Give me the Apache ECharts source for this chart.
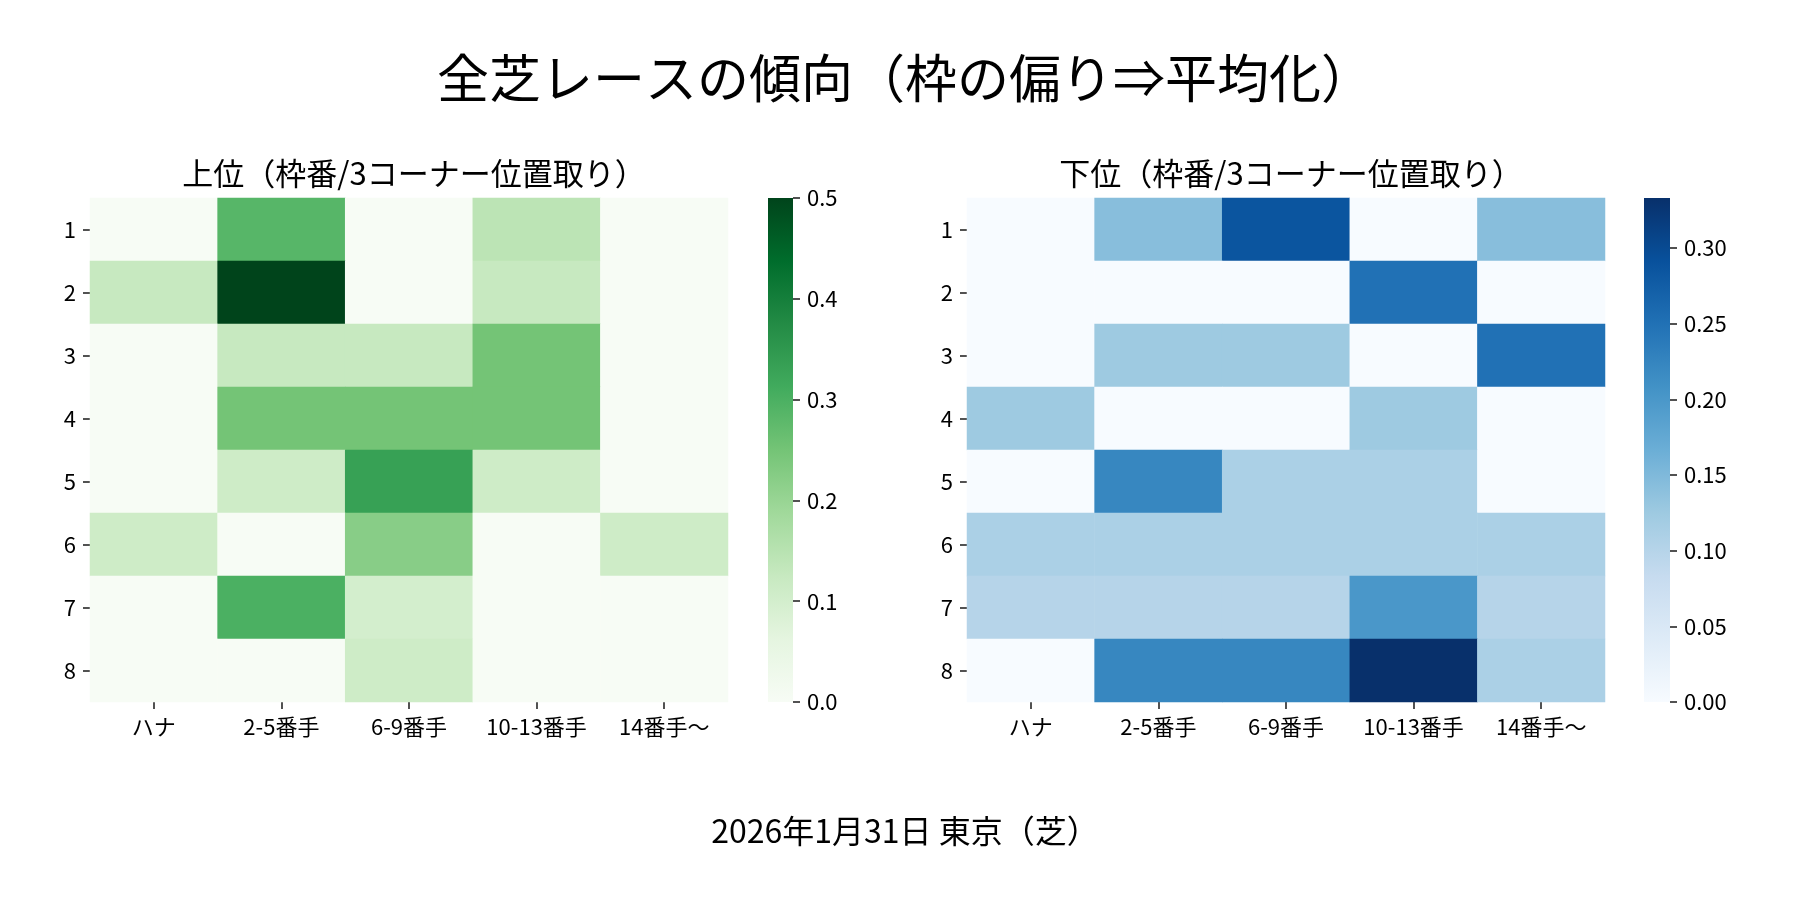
<!DOCTYPE html>
<html lang="ja">
<head>
<meta charset="UTF-8">
<title>全芝レースの傾向</title>
<script src="https://cdn.jsdelivr.net/npm/echarts@6.0.0/dist/echarts.min.js"></script>
<style>
    html, body { margin: 0; padding: 0; background: #fff; }
    #chart { width: 1800px; height: 900px; }
</style>
</head>
<body>
<div id="chart"></div>
<script>
    // 列: 3コーナー位置取り / 行: 枠番
    const positions = ['ハナ', '2-5番手', '6-9番手', '10-13番手', '14番手〜'];
    const gates = ['1', '2', '3', '4', '5', '6', '7', '8'];

    // 上位（割合）
    const upperRate = [
        [0, 0.286, 0, 0.143, 0],
        [0.125, 0.5, 0, 0.125, 0],
        [0, 0.125, 0.125, 0.25, 0],
        [0, 0.25, 0.25, 0.25, 0],
        [0, 0.111, 0.333, 0.111, 0],
        [0.111, 0, 0.222, 0, 0.111],
        [0, 0.3, 0.1, 0, 0],
        [0, 0, 0.111, 0, 0]
    ];
    // 下位（割合）
    const lowerRate = [
        [0, 0.143, 0.286, 0, 0.143],
        [0, 0, 0, 0.25, 0],
        [0, 0.125, 0.125, 0, 0.25],
        [0.125, 0, 0, 0.125, 0],
        [0, 0.222, 0.111, 0.111, 0],
        [0.111, 0.111, 0.111, 0.111, 0.111],
        [0.1, 0.1, 0.1, 0.2, 0.1],
        [0, 0.222, 0.222, 0.333, 0.111]
    ];

    const upperTicks = [0, 0.1, 0.2, 0.3, 0.4, 0.5];
    const lowerTicks = [0, 0.05, 0.1, 0.15, 0.2, 0.25, 0.3];

    const greens = ['#f7fcf5', '#e5f5e0', '#c7e9c0', '#a1d99b', '#74c476', '#41ab5d', '#238b45', '#006d2c', '#00441b'];
    const blues = ['#f7fbff', '#deebf7', '#c6dbef', '#9ecae1', '#6baed6', '#4292c6', '#2171b5', '#08519c', '#08306b'];

    const FONT = '"Noto Sans CJK JP", "Noto Sans", sans-serif';
    const TICK = '#262626';

    function toCells(rows) {
        const out = [];
        rows.forEach((r, y) => r.forEach((v, x) => out.push([x, y, v])));
        return out;
    }
    function gradient(colors) {
        return new echarts.graphic.LinearGradient(0, 1, 0, 0,
            colors.map((c, i) => ({offset: i / (colors.length - 1), color: c})));
    }

    const upperMax = Math.max(...upperRate.flat());
    const lowerMax = Math.max(...lowerRate.flat());

    const label = {fontFamily: FONT, fontSize: 22, color: '#000'};
    const tick = {show: true, alignWithLabel: true, length: 7, lineStyle: {color: TICK, width: 1.6}};

    function heatX(grid) {
        return {
            type: 'category', gridIndex: grid, data: positions,
            axisLine: {show: false}, axisTick: tick, splitLine: {show: false},
            axisLabel: Object.assign({margin: 14, interval: 0, hideOverlap: false}, label)
        };
    }
    function heatY(grid) {
        return {
            type: 'category', gridIndex: grid, data: gates, inverse: true,
            axisLine: {show: false}, axisTick: tick, splitLine: {show: false},
            axisLabel: Object.assign({margin: 14, interval: 0}, label)
        };
    }
    function barX(grid) {
        return {type: 'category', gridIndex: grid, data: [''], show: false};
    }
    function barY(grid, max, ticks, digits) {
        return {
            type: 'value', gridIndex: grid, min: 0, max: max, position: 'right',
            axisLine: {show: false}, splitLine: {show: false},
            axisTick: {show: true, length: 7, lineStyle: {color: TICK, width: 1.6}, customValues: ticks},
            axisLabel: Object.assign({margin: 14, customValues: ticks,
                formatter: v => v.toFixed(digits)}, label)
        };
    }

    const chart = echarts.init(document.getElementById('chart'));
    chart.setOption({
        backgroundColor: '#fff',
        animation: false,
        title: [
            {text: '全芝レースの傾向（枠の偏り⇒平均化）', left: 900, top: 47, textAlign: 'center',
                textStyle: {fontFamily: FONT, fontSize: 52, fontWeight: 'normal', color: '#000'}},
            {text: '上位（枠番/3コーナー位置取り）', left: 409, top: 153, textAlign: 'center',
                textStyle: {fontFamily: FONT, fontSize: 31, fontWeight: 'normal', color: '#000'}},
            {text: '下位（枠番/3コーナー位置取り）', left: 1286, top: 153, textAlign: 'center',
                textStyle: {fontFamily: FONT, fontSize: 31, fontWeight: 'normal', color: '#000'}},
            {text: '2026年1月31日 東京（芝）', left: 900, top: 810, textAlign: 'center',
                textStyle: {fontFamily: FONT, fontSize: 32, fontWeight: 'normal', color: '#000'}}
        ],
        grid: [
            {left: 90, top: 198, width: 638, height: 504},
            {left: 768, top: 198, width: 25, height: 504},
            {left: 967, top: 198, width: 638, height: 504},
            {left: 1644, top: 198, width: 26, height: 504}
        ],
        xAxis: [heatX(0), barX(1), heatX(2), barX(3)],
        yAxis: [heatY(0), barY(1, upperMax, upperTicks, 1), heatY(2), barY(3, lowerMax, lowerTicks, 2)],
        visualMap: [
            {type: 'continuous', show: false, seriesIndex: 0, min: 0, max: upperMax, inRange: {color: greens}},
            {type: 'continuous', show: false, seriesIndex: 2, min: 0, max: lowerMax, inRange: {color: blues}}
        ],
        series: [
            {type: 'heatmap', xAxisIndex: 0, yAxisIndex: 0, data: toCells(upperRate),
                emphasis: {disabled: true}, itemStyle: {borderWidth: 0}},
            {type: 'bar', xAxisIndex: 1, yAxisIndex: 1, data: [upperMax], barWidth: '100%',
                itemStyle: {color: gradient(greens)}, silent: true},
            {type: 'heatmap', xAxisIndex: 2, yAxisIndex: 2, data: toCells(lowerRate),
                emphasis: {disabled: true}, itemStyle: {borderWidth: 0}},
            {type: 'bar', xAxisIndex: 3, yAxisIndex: 3, data: [lowerMax], barWidth: '100%',
                itemStyle: {color: gradient(blues)}, silent: true}
        ]
    });
</script>
</body>
</html>
